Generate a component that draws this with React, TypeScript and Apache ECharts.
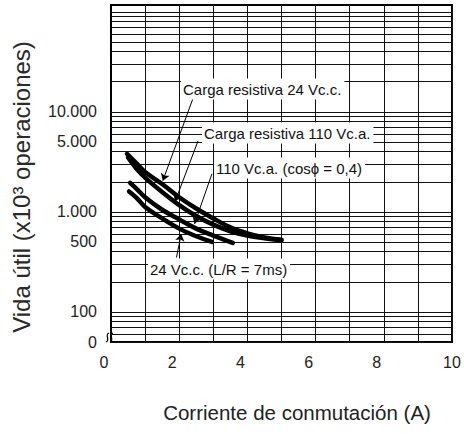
import React, { useEffect, useRef } from "react";
import * as echarts from "echarts";

// ---- data ----
const xTickLabels = [0, 2, 4, 6, 8, 10];
const yLabelValues = [50, 100, 500, 1000, 5000, 10000];
const yLabelTexts = ["0", "100", "500", "1.000", "5.000", "10.000"];
const yGridValues = [
  60, 70, 80, 90, 100, 200, 300, 400, 500, 600, 700, 800, 900, 1000, 2000, 3000,
  4000, 5000, 6000, 7000, 8000, 9000, 10000, 20000, 30000, 40000, 50000, 60000,
  70000, 80000, 90000, 100000,
];

const resistive24DC = [
  [0.47, 3800], [0.75, 3050], [1.0, 2500], [1.5, 1900], [2.0, 1400], [2.5, 1080],
  [3.0, 860], [3.5, 700], [4.0, 610], [4.5, 555], [5.0, 525],
];
const resistive110AC = [
  [0.5, 3500], [0.75, 2700], [1.0, 2200], [1.5, 1580], [2.0, 1170], [2.5, 910],
  [3.0, 745], [3.5, 640], [4.0, 580], [4.5, 545], [5.0, 520],
];
const inductive110AC = [
  [0.56, 1950], [0.75, 1700], [1.0, 1400], [1.5, 1050], [2.0, 840], [2.5, 680],
  [3.0, 580], [3.57, 490],
];
const inductive24DC = [
  [0.53, 1600], [0.75, 1380], [1.0, 1120], [1.5, 860], [2.0, 680], [2.5, 570],
  [2.96, 500],
];

const curveNames = [
  "Carga resistiva 24 Vc.c.",
  "Carga resistiva 110 Vc.a.",
  "110 Vc.a. (cosϕ = 0,4)",
  "24 Vc.c. (L/R = 7ms)",
];

// leader arrows: [from, to] in data units
const leaders = [
  [[2.4, 13500], [1.52, 2050]],
  [[2.55, 5100], [1.88, 1270]],
  [[2.96, 2400], [2.45, 760]],
  [[1.92, 350], [2.06, 600]],
];

const FONT = "'Liberation Sans', Arial, Helvetica, sans-serif";

export default function App() {
  const ref = useRef<HTMLDivElement>(null);

  useEffect(() => {
    const chart = echarts.init(ref.current!, null, { renderer: "svg" });

    const gridLines: any[] = yGridValues.map((v) => ({ yAxis: v }));
    yLabelValues.forEach((v, i) => {
      gridLines.push({
        yAxis: v,
        label: {
          show: true,
          position: "start",
          distance: 14,
          formatter: yLabelTexts[i],
          fontSize: 16,
          color: "#222",
          fontFamily: FONT,
        },
      });
    });

    const curves = [resistive24DC, resistive110AC, inductive110AC, inductive24DC];

    const series: any[] = curves.map((d, i) => ({
      name: curveNames[i],
      type: "line",
      data: d,
      smooth: 0.4,
      symbol: "none",
      showSymbol: false,
      z: 3,
      lineStyle: { color: "#000", width: 4.5, cap: "round" },
      emphasis: { disabled: true },
    }));

    series[0].markLine = {
      silent: true,
      z: 1,
      symbol: "none",
      animation: false,
      lineStyle: { color: "#111", width: 1, type: "solid" },
      label: { show: false },
      emphasis: { disabled: true },
      data: gridLines,
    };
    series[1].markLine = {
      silent: true,
      z: 10,
      symbol: ["none", "arrow"],
      symbolSize: 7,
      animation: false,
      lineStyle: { color: "#000", width: 1, type: "solid" },
      label: { show: false },
      emphasis: { disabled: true },
      data: leaders.map((l) => [{ coord: l[0] }, { coord: l[1] }]),
    };

    const textBox = (text: string, x: number, y: number) => ({
      type: "text",
      x,
      y,
      z: 100,
      silent: true,
      style: {
        text,
        fill: "#111",
        font: `15px ${FONT}`,
        textAlign: "left",
        textVerticalAlign: "middle",
        backgroundColor: "#fff",
        padding: [3, 3, 3, 2],
      },
    });

    const squiggle = (dx: number) => ({
      type: "bezierCurve",
      z: 100,
      silent: true,
      shape: {
        x1: 106 + dx, y1: 342,
        x2: 109 + dx, y2: 333,
        cpx1: 111 + dx, cpy1: 340,
        cpx2: 104 + dx, cpy2: 335,
      },
      style: { stroke: "#000", lineWidth: 1.2, fill: null },
    });

    chart.setOption({
      animation: false,
      backgroundColor: "#fff",
      textStyle: { fontFamily: FONT },
      grid: {
        left: 111,
        top: 5,
        width: 341,
        height: 337,
        show: true,
        borderColor: "#000",
        borderWidth: 2,
        backgroundColor: "transparent",
      },
      xAxis: {
        type: "value",
        min: 0,
        max: 10,
        interval: 1,
        name: "Corriente de conmutación (A)",
        nameLocation: "middle",
        nameGap: 60,
        nameTextStyle: {
          fontSize: 20.5,
          color: "#222",
          fontFamily: FONT,
          padding: [0, 0, 0, 31],
        },
        axisLine: { show: true, lineStyle: { color: "#000", width: 2 } },
        axisTick: { show: false },
        axisLabel: {
          fontSize: 16,
          color: "#222",
          margin: 12,
          fontFamily: FONT,
          formatter: (v: number) =>
            xTickLabels.includes(v) ? (v === 10 ? `{b|${v}}` : `{a|${v}}`) : "",
          rich: {
            a: { fontSize: 16, color: "#222", fontFamily: FONT, padding: [0, 14, 0, 0] },
            b: { fontSize: 16, color: "#222", fontFamily: FONT },
          },
        },
        splitLine: { show: true, lineStyle: { color: "#111", width: 1 } },
      },
      yAxis: {
        type: "log",
        min: 50,
        max: 117000,
        name: "Vida útil (x10³ operaciones)",
        nameLocation: "middle",
        nameGap: 78,
        nameTextStyle: {
          fontSize: 24,
          color: "#2a2a2a",
          fontFamily: FONT,
          padding: [0, 27, 0, 0],
        },
        axisLine: { show: true, lineStyle: { color: "#000", width: 2 } },
        axisTick: { show: false },
        axisLabel: { show: false },
        splitLine: { show: false },
      },
      graphic: [
        textBox(curveNames[0], 181, 89),
        textBox(curveNames[1], 202, 133),
        textBox(curveNames[2], 214, 168),
        textBox(curveNames[3], 148, 269),
        squiggle(0),
        squiggle(4),
      ],
      series,
    });

    return () => chart.dispose();
  }, []);

  return (
    <div
      ref={ref}
      style={{ position: "absolute", left: 0, top: 0, width: 464, height: 434 }}
    />
  );
}
